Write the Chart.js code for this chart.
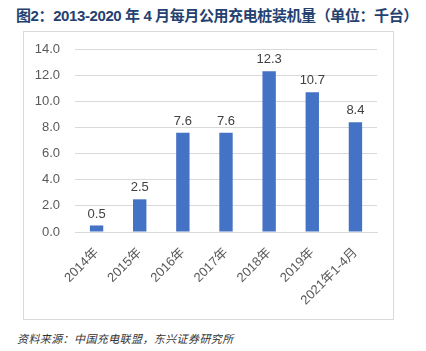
<!DOCTYPE html>
<html>
<head>
<meta charset="utf-8">
<script src="https://cdn.jsdelivr.net/npm/chart.js@4/dist/chart.umd.min.js"></script>
<style>
  body { margin: 0; width: 426px; height: 351px; background: #fff; position: relative; overflow: hidden; }
  #title { position: absolute; left: 16px; top: 4px; font: bold 15px "Liberation Sans", "Noto Sans CJK SC", sans-serif; color: #244170; white-space: nowrap; letter-spacing: -0.4px; }
  #box { position: absolute; left: 23px; top: 31px; width: 369px; height: 287px; border: 1px solid #d9d9d9; }
  #footer { position: absolute; left: 17px; top: 330px; font: italic 11px "Noto Sans CJK SC", sans-serif; color: #333; white-space: nowrap; letter-spacing: 0.4px; }
</style>
</head>
<body>
<div id="title">图2：2013-2020 年 4 月每月公用充电桩装机量（单位：千台）</div>
<div id="box"><canvas id="myChart" width="369" height="287"></canvas></div>
<div id="footer">资料来源：中国充电联盟，东兴证券研究所</div>
<script>
// categories and values
const categories = ["2014年", "2015年", "2016年", "2017年", "2018年", "2019年", "2021年1-4月"];
const installs = [0.5, 2.5, 7.6, 7.6, 12.3, 10.7, 8.4];
const yTicks = [0, 2, 4, 6, 8, 10, 12, 14];

const labelFont = '"Liberation Sans", "Noto Sans CJK SC", sans-serif';

// draw the value above each bar
const valueLabels = {
  id: "valueLabels",
  afterDatasetsDraw(chart) {
    const ctx = chart.ctx;
    const meta = chart.getDatasetMeta(0);
    ctx.save();
    ctx.font = "13px " + labelFont;
    ctx.fillStyle = "#404040";
    ctx.textAlign = "center";
    ctx.textBaseline = "bottom";
    meta.data.forEach((bar, i) => {
      ctx.fillText(installs[i].toFixed(1), bar.x, bar.y - 5);
    });
    ctx.restore();
  },
};

function renderChart() {
  const ctx = document.getElementById("myChart").getContext("2d");
  new Chart(ctx, {
    type: "bar",
    data: {
      labels: categories,
      datasets: [
        {
          data: installs,
          backgroundColor: "#4472c4",
          barPercentage: 0.31,
          categoryPercentage: 1,
        },
      ],
    },
    options: {
      responsive: false,
      animation: false,
      layout: { padding: { top: 17, right: 16, left: 0, bottom: 0 } },
      plugins: { legend: { display: false }, tooltip: { enabled: false } },
      scales: {
        x: {
          grid: { display: false },
          border: { display: true, color: "#d9d9d9" },
          ticks: {
            minRotation: 45,
            maxRotation: 45,
            padding: 5,
            color: "#595959",
            font: { size: 13, family: labelFont },
          },
          afterFit: (s) => {
            s.height = 87;
            s.paddingTop = 0;
            s.paddingBottom = 0;
          },
        },
        y: {
          min: 0,
          max: 14,
          afterBuildTicks: (s) => { s.ticks = yTicks.map((v) => ({ value: v })); },
          grid: { color: "#d9d9d9", drawTicks: false },
          border: { display: false },
          ticks: {
            padding: 15,
            color: "#595959",
            font: { size: 13, family: labelFont },
            callback: (v) => Number(v).toFixed(1),
          },
          afterFit: (s) => {
            s.width = 51;
            s.paddingTop = 0;
            s.paddingBottom = 0;
          },
        },
      },
    },
    plugins: [valueLabels],
  });
}

renderChart();
</script>
</body>
</html>
